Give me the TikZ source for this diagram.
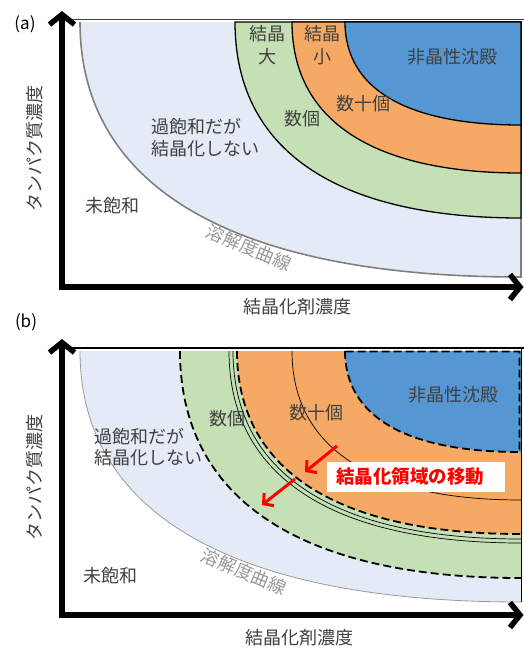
\documentclass[tikz,border=0pt]{standalone}
\usepackage{fontspec}
\setmainfont{Noto Sans CJK JP}
\usetikzlibrary{arrows.meta}
\definecolor{lblue}{HTML}{E5EBF6}
\definecolor{lgreen}{HTML}{C5E0B4}
\definecolor{lorange}{HTML}{F6A964}
\definecolor{dblue}{HTML}{5597D3}
\definecolor{txt}{HTML}{404040}
\begin{document}
\begin{tikzpicture}[x=1pt,y=-1pt,
  lbl/.style={text=txt, font=\fontsize{18}{23}\selectfont, inner sep=0pt},
  curvelbl/.style={text=black!40, font=\fontsize{18}{22}\selectfont, inner sep=0pt, rotate=-23},
  axisline/.style={line width=5.5pt, -{Straight Barb[length=10pt,width=25pt]}},
  dsh/.style={line width=1.8pt, dash pattern=on 8pt off 4pt},
  thinline/.style={line width=0.7pt, black},
  redarr/.style={draw=red, line width=3pt, -{Straight Barb[length=7pt,width=16pt]}},
  panlbl/.style={text=black, font=\fontsize{17}{19}\selectfont, inner sep=0pt}]
\useasboundingbox (0,0) rectangle (524,648);

% ================= Panel (a) =================
\fill[lblue] (80,22) .. controls (80,187.75) and (234.35,277) .. (521,277) -- (521,22) -- cycle;
\draw[gray, line width=1.6pt] (80,22) .. controls (80,187.75) and (234.35,277) .. (521,277) -- (521,22);
\filldraw[fill=lgreen, draw=black, line width=1.3pt] (235,22) .. controls (235,149.4) and (335.1,218) .. (521,218) -- (521,22) -- cycle;
\filldraw[fill=lorange, draw=black, line width=1.3pt] (292,22) .. controls (292,120.15) and (372.15,173) .. (521,173) -- (521,22) -- cycle;
\filldraw[fill=dblue, draw=black, line width=1.3pt] (345,22) .. controls (345,88.95) and (406.6,125) .. (521,125) -- (521,22) -- cycle;
\draw[black!75, line width=1.6pt] (62,19.5) -- (524,19.5);

\coordinate (ay0) at (62,290);
\coordinate (ay1) at (62,11);
\coordinate (ax0) at (59.5,287);
\coordinate (ax1) at (523.5,287);
\draw[axisline] (ay0) -- (ay1);
\draw[axisline] (ax0) -- (ax1);

\node[panlbl] (pa) at (25,24) {(a)};
\node[lbl, rotate=90] (ya) at (35,148) {タンパク質濃度};
\node[lbl] (xa) at (297,307) {結晶化剤濃度};
\node[lbl, align=center] (big) at (267,45) {結晶\\大};
\node[lbl, align=center] (small) at (322,45) {結晶\\小};
\node[lbl] (amorA) at (452,57) {非晶性沈殿};
\node[lbl] (tensA) at (363,104) {数十個};
\node[lbl] (fewA) at (302,119) {数個};
\node[lbl, align=left, anchor=west, font=\fontsize{18}{22}\selectfont] (supA) at (151,138) {過飽和だが\\結晶化しない};
\node[lbl] (unsA) at (112,206) {未飽和};
\node[curvelbl] (solA) at (249,248) {溶解度曲線};

% ================= Panel (b) =================
\fill[lblue] (80,351) .. controls (80,514.15) and (234.35,602) .. (521,602) -- (521,351) -- cycle;
\draw[gray!80, line width=0.8pt] (80,351) .. controls (80,514.15) and (234.35,602) .. (521,602);
\fill[lgreen] (180,351) .. controls (180,498.55) and (299.35,578) .. (521,578) -- (521,351) -- cycle;
\draw[dsh] (180,351) .. controls (180,498.55) and (299.35,578) .. (521,578);
\draw[thinline] (229,351) .. controls (229,475.8) and (331.2,543) .. (521,543);
\draw[thinline] (233,351) .. controls (233,473.2) and (333.8,539) .. (521,539);
\fill[lorange] (237,351) .. controls (237,469.95) and (336.4,534) .. (521,534) -- (521,351) -- cycle;
\draw[dsh] (237,351) .. controls (237,469.95) and (336.4,534) .. (521,534);
\draw[thinline] (292,351) .. controls (292,447.85) and (372.15,500) .. (521,500);
\fill[dblue] (345,351) .. controls (345,416.65) and (406.6,452) .. (521,452) -- (521,351) -- cycle;
\draw[dsh] (345,351) .. controls (345,416.65) and (406.6,452) .. (519.5,452) -- (519.5,351.5) -- (345,351.5);
\draw[black, line width=1pt] (521,349) -- (521,602);
\draw[black, line width=2pt] (62,348) -- (524,348);

\coordinate (by0) at (62,618);
\coordinate (by1) at (62,339);
\coordinate (bx0) at (59.5,615);
\coordinate (bx1) at (523.5,615);
\draw[axisline] (by0) -- (by1);
\draw[axisline] (bx0) -- (bx1);

\node[panlbl] (pb) at (26,322) {(b)};
\node[lbl, rotate=90] (yb) at (35,477) {タンパク質濃度};
\node[lbl] (xb) at (299,638) {結晶化剤濃度};
\node[lbl] (amorB) at (453,395) {非晶性沈殿};
\node[lbl] (tensB) at (316,413) {数十個};
\node[lbl] (fewB) at (227,419) {数個};
\node[lbl, align=left, anchor=west, font=\fontsize{18}{21}\selectfont] (supB) at (94,447.5) {過飽和だが\\結晶化しない};
\node[lbl] (unsB) at (110,576) {未飽和};
\node[curvelbl] (solB) at (244,572) {溶解度曲線};

\coordinate (r1s) at (337,446);
\coordinate (r1e) at (305,472);
\coordinate (r2s) at (295,479);
\coordinate (r2e) at (262,505);
\draw[redarr] (r1s) -- (r1e);
\draw[redarr] (r2s) -- (r2e);

\node[fill=white, minimum width=178pt, minimum height=30pt, inner sep=0pt] (rbox) at (416,477) {};
\node[text=red, font=\bfseries\fontsize{18.5}{20}\selectfont, inner sep=0pt] (rlbl) at (410,477) {結晶化領域の移動};
\end{tikzpicture}
\end{document}
